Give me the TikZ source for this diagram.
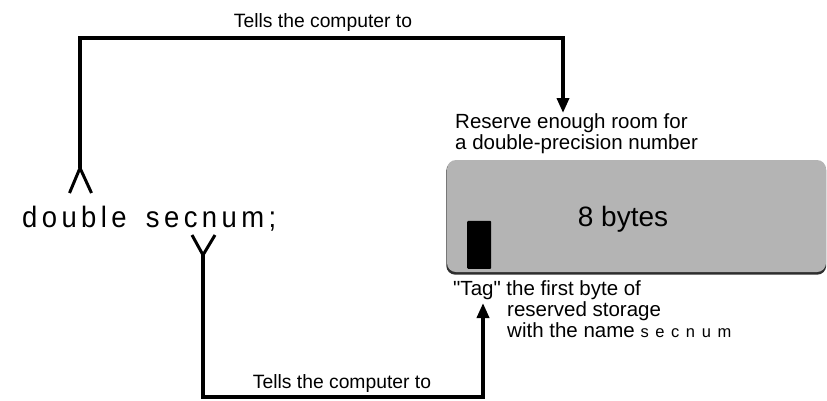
\documentclass[tikz,border=0pt]{standalone}
\usepackage{fontspec}
\setmainfont{Liberation Sans}
% families without the TeX quote mapping, so " stays a straight quote
\newfontfamily\plainfont{Liberation Sans}
\newfontfamily\codefont[LetterSpace=15,FakeStretch=0.93,WordSpace=1.6]{Liberation Sans}
\newfontfamily\smallcode[LetterSpace=40]{Liberation Sans}
\usetikzlibrary{arrows.meta,backgrounds}
\definecolor{memgray}{HTML}{B4B4B4}
\definecolor{memedge}{HTML}{2E2E2E}

\begin{document}
\begin{tikzpicture}[x=1pt,y=-1pt,
  wire/.style={line width=3.6pt, line join=miter},
  forkline/.style={line width=3pt, line join=miter},
  pointer/.style={wire,-{Triangle[width=12pt,length=15pt]}},
  caption/.style={font=\plainfont\fontsize{19.3}{22}\selectfont, inner sep=0pt},
  note/.style={font=\plainfont\fontsize{20.5}{21.5}\selectfont, inner sep=0pt, align=left},
  membox/.style={fill=memgray, rounded corners=9pt, inner sep=0pt,
                 minimum width=379pt, minimum height=112pt},
  tagmark/.style={fill=black, rounded corners=1pt, inner sep=0pt,
                  minimum width=24pt, minimum height=48pt},
]
\useasboundingbox (0,0) rectangle (827,400);

% the C declaration
\node[anchor=base west, inner sep=0pt, font=\codefont\fontsize{29.5}{32}\selectfont]
  (decl) at (22,227) {double secnum;};

% memory cell reserved for the double
\node[membox] (mem) at (636.5,216) {};
\begin{scope}[on background layer]
  \fill[memedge, rounded corners=9pt]
    ([yshift=-2.5pt,xshift=-0.5pt]mem.south west) rectangle ([yshift=-2pt]mem.north east);
\end{scope}
\node[anchor=base, font=\plainfont\fontsize{28}{32}\selectfont, inner sep=0pt] (size) at (623,226) {8 bytes};
\node[tagmark, anchor=south west] (tag) at (467,269) {};

% explanatory texts
\node[note, anchor=north west] (reserve) at (455,113)
  {Reserve enough room for\\a double-precision number};
\node[note, anchor=base west] (tagline1) at (453,295) {"Tag" the first byte of};
\node[note, anchor=base west] (tagline2) at (507,316) {reserved storage};
\node[note, anchor=base west] (tagline3) at (507,337)
  {with the name {\smallcode\fontsize{16.5}{18}\selectfont secnum}};

% fork under the type name, connector to the reserve text
\coordinate (forkA) at (80,168);
\coordinate (forkAl) at (69.5,193);
\coordinate (forkAr) at (91.5,193);
\coordinate (topRail) at (563,38);
\coordinate (topTip) at (563,113);
\draw[forkline] (forkAl) -- (forkA) -- (forkAr);
\draw[pointer] (forkA) |- (topRail) -- (topTip);
\node[caption, anchor=base] (toplabel) at (323,27) {Tells the computer to};

% fork under the variable name, connector to the tag text
\coordinate (forkB) at (203,255);
\coordinate (forkBl) at (192,235);
\coordinate (forkBr) at (215,235);
\coordinate (botRail) at (483,397);
\coordinate (botTip) at (483,303);
\draw[forkline] (forkBl) -- (forkB) -- (forkBr);
\draw[pointer] (forkB) |- (botRail) -- (botTip);
\node[caption, anchor=base] (botlabel) at (342,388) {Tells the computer to};
\end{tikzpicture}
\end{document}
